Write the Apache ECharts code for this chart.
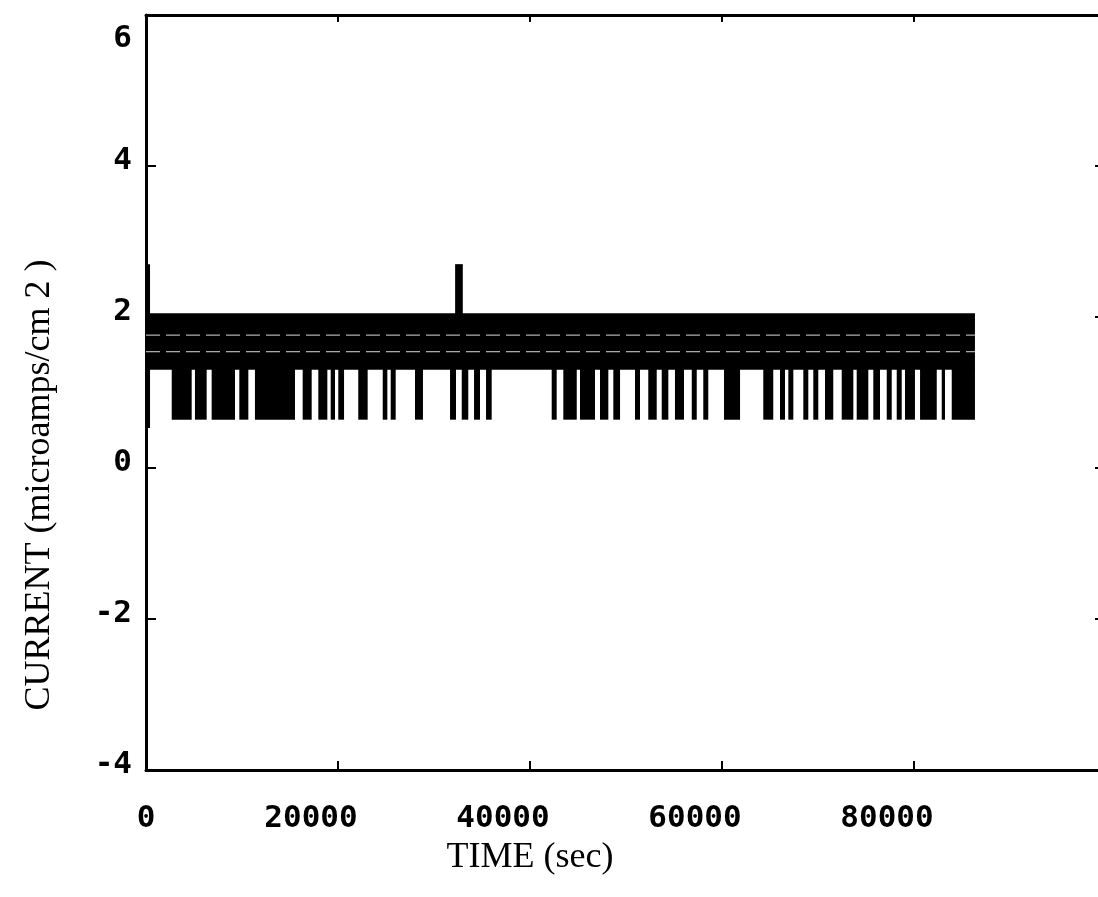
<!DOCTYPE html>
<html>
<head>
<meta charset="utf-8">
<style>
html,body{margin:0;padding:0;background:#fff;}
#chart{width:1098px;height:897px;}
</style>
<script src="https://cdn.jsdelivr.net/npm/echarts@6/dist/echarts.min.js"></script>
</head>
<body>
<div id="chart"></div>
<script>
// ---- data ----
const xTickValues = [0, 20000, 40000, 60000, 80000, 100000];
const xTickLabels = ['0', '20000', '40000', '60000', '80000', ''];
const yTickValues = [-4, -2, 0, 2, 4, 6];
const yTickLabels = ['-4', '-2', '0', '2', '4', '6'];

// main oscillation band: [tStart, tEnd, low, high]
const bandRanges = [[0, 86350, 1.30, 2.05]];
// dips below band: start/end time (sec)
const dipStarts = [2680, 5100, 6840, 9720, 11350, 16320, 17950, 19240, 20030, 22110, 24660, 25490, 28020, 31670, 32890, 34170, 35420, 42260, 43470, 45210, 47290, 48680, 50940, 52320, 53720, 55100, 56850, 58050, 60210, 64300, 66040, 66910, 68470, 69510, 70730, 72470, 74030, 75760, 77160, 78200, 79060, 80630, 82890, 83930];
const dipEnds   = [4760, 6320, 9270, 10660, 15520, 17260, 18890, 19690, 20630, 23090, 25140, 26010, 28850, 32290, 33570, 34790, 36010, 42780, 44870, 46770, 48160, 49380, 51460, 53200, 54410, 56040, 57370, 58570, 61880, 65340, 66560, 67430, 68990, 70030, 71590, 73680, 75240, 76460, 77680, 78720, 80100, 82370, 83230, 86350];
const dipLow = 0.64;
// spikes: [tStart, tEnd, low, high]
const spikeRanges = [[0, 420, 0.53, 2.70], [32200, 33000, 2.0, 2.70]];
// faint inner white streaks in the band
const streakLevels = [1.76, 1.54];
const streakEnd = 86350;

// ---- build ----
const dipData = dipStarts.map((s, i) => [s, dipEnds[i], dipLow, 1.32]);

function rectItem(params, api) {
  const p0 = api.coord([api.value(0), api.value(3)]);
  const p1 = api.coord([api.value(1), api.value(2)]);
  return {
    type: 'rect',
    shape: { x: p0[0], y: p0[1], width: Math.max(p1[0] - p0[0], 1.5), height: p1[1] - p0[1] },
    style: { fill: '#000' }
  };
}

const xLabelMap = {};
xTickValues.forEach((v, i) => xLabelMap[v] = xTickLabels[i]);
const yLabelMap = {};
yTickValues.forEach((v, i) => yLabelMap[v] = yTickLabels[i]);

const tickFont = 'DejaVu Sans Mono';
const chart = echarts.init(document.getElementById('chart'), null, { renderer: 'canvas' });
const axisLine = { show: true, onZero: false, lineStyle: { color: '#000', width: 3 } };

chart.setOption({
  animation: false,
  backgroundColor: '#fff',
  grid: { left: 146, width: 960, top: 15, height: 755, containLabel: false, outerBoundsMode: 'none' },
  xAxis: [
    {
      type: 'value', position: 'bottom', min: 0, max: 100000, interval: 20000,
      axisLine: axisLine, splitLine: { show: false },
      axisTick: { show: true, inside: true, length: 9, lineStyle: { color: '#000', width: 2 } },
      axisLabel: {
        margin: 33, color: '#000',
        formatter: v => {
          const t = xLabelMap[v] || '';
          if (!t) return '';
          return v === 0 ? '{a|' + t + '}' : '{b|' + t + '}';
        },
        rich: {
          a: { fontFamily: tickFont, fontWeight: 'bold', fontSize: 31, color: '#000' },
          b: { fontFamily: tickFont, fontWeight: 'bold', fontSize: 31, color: '#000', padding: [0, 54, 0, 0] }
        }
      },
      name: 'TIME (sec)', nameLocation: 'middle', nameGap: 70,
      nameTextStyle: { fontFamily: 'Liberation Serif', fontSize: 36, color: '#000', padding: [0, 192, 0, 0] }
    },
    {
      type: 'value', position: 'top', min: 0, max: 100000, interval: 20000,
      axisLine: axisLine, splitLine: { show: false },
      axisTick: { show: true, inside: true, length: 7, lineStyle: { color: '#000', width: 2 } },
      axisLabel: { show: false }
    }
  ],
  yAxis: [
    {
      type: 'value', position: 'left', min: -4, max: 6, interval: 2,
      axisLine: axisLine, splitLine: { show: false },
      axisTick: { show: true, inside: true, length: 10, lineStyle: { color: '#000', width: 2 } },
      axisLabel: {
        margin: 14, color: '#000',
        formatter: v => {
          const t = yLabelMap[v];
          if (t === undefined) return '';
          return v === 6 ? '{top|' + t + '}' : '{n|' + t + '}';
        },
        rich: {
          n: { fontFamily: tickFont, fontWeight: 'bold', fontSize: 31, color: '#000', padding: [0, 0, 10, 0] },
          top: { fontFamily: tickFont, fontWeight: 'bold', fontSize: 31, color: '#000', padding: [48, 0, 0, 0] }
        }
      },
      name: 'CURRENT (microamps/cm 2 )', nameLocation: 'middle', nameGap: 88,
      nameTextStyle: { fontFamily: 'Liberation Serif', fontSize: 36, color: '#000', padding: [0, 185, 0, 0] }
    },
    {
      type: 'value', position: 'right', min: -4, max: 6, interval: 2,
      axisLine: axisLine, splitLine: { show: false },
      axisTick: { show: true, inside: true, length: 11, lineStyle: { color: '#000', width: 2 } },
      axisLabel: { show: false }
    }
  ],
  series: [
    { type: 'custom', renderItem: rectItem, data: bandRanges, encode: { x: [0, 1], y: [2, 3] }, clip: true, silent: true },
    { type: 'custom', renderItem: rectItem, data: dipData, encode: { x: [0, 1], y: [2, 3] }, clip: true, silent: true },
    { type: 'custom', renderItem: rectItem, data: spikeRanges, encode: { x: [0, 1], y: [2, 3] }, clip: true, silent: true },
    ...streakLevels.map(lv => ({
      type: 'line', data: [[0, lv], [streakEnd, lv]], symbol: 'none', silent: true,
      lineStyle: { color: '#fff', width: 1, type: [14, 6], opacity: 0.85 }
    }))
  ]
});
</script>
</body>
</html>
